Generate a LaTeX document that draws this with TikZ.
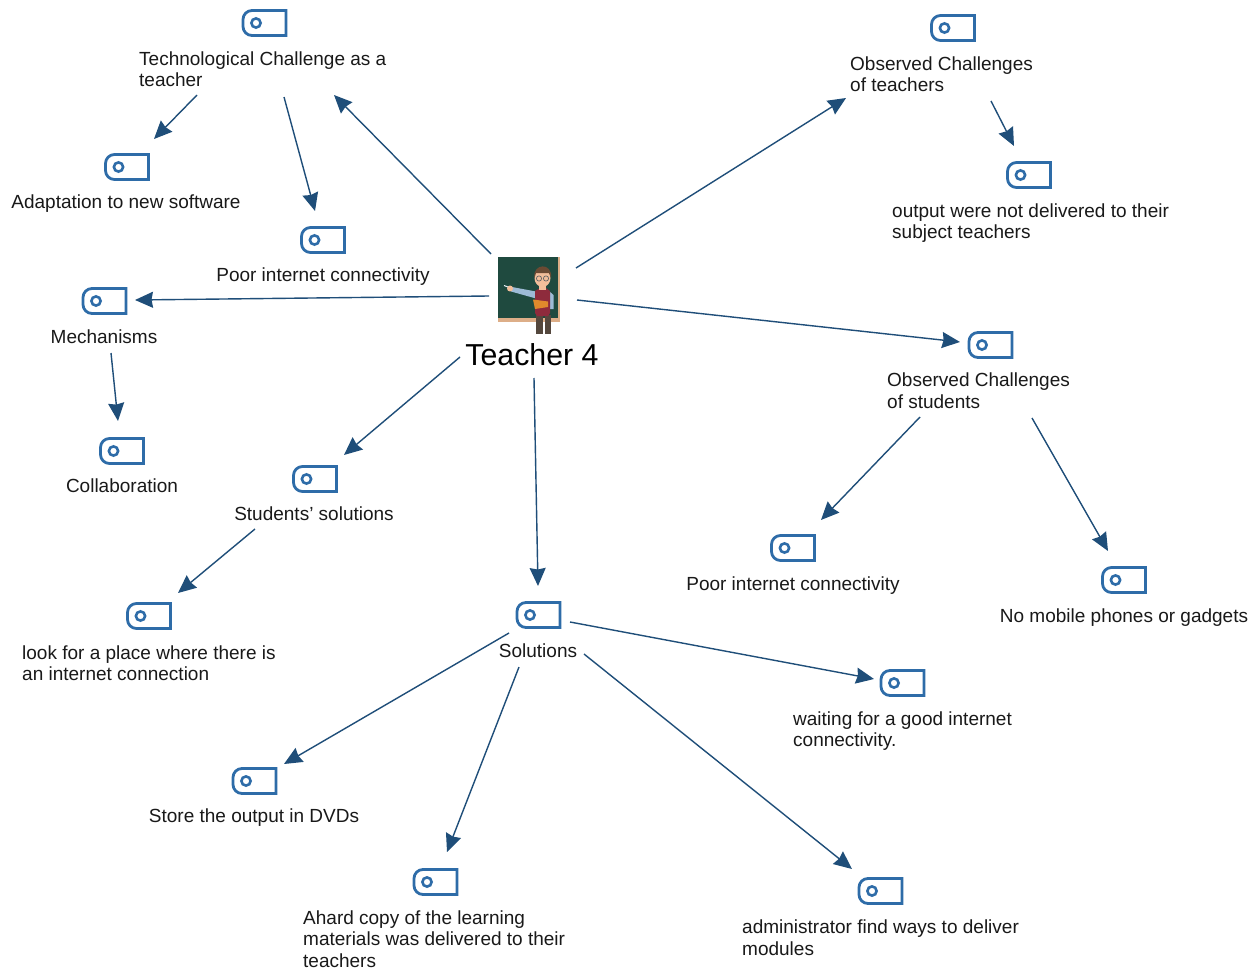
\documentclass[tikz,border=0pt]{standalone}
\usepackage{fontspec}
\setmainfont{Liberation Sans}
\usetikzlibrary{arrows.meta,calc}
\definecolor{arrowblue}{HTML}{1F4E79}
\definecolor{iconblue}{HTML}{2E6CA8}
\definecolor{boardgreen}{HTML}{1F4A3F}
\definecolor{frametan}{HTML}{DDAE88}
\definecolor{skin}{HTML}{F2BE9A}
\definecolor{hair}{HTML}{6B4A33}
\definecolor{vest}{HTML}{8E2B3C}
\definecolor{sleeve}{HTML}{9DBBD6}
\definecolor{bookor}{HTML}{E08A2C}
\definecolor{trouser}{HTML}{54473D}
\tikzset{
  x=1pt,y=-1pt,
  link/.style={draw=arrowblue,line width=1.4pt,-{Stealth[length=18pt,width=16pt,inset=1.5pt]}},
  tagbox/.style={minimum width=43pt,minimum height=25pt,inner sep=0pt,outer sep=0pt},
  tagline/.style={draw=iconblue,line width=2.8pt,line join=miter},
  tagdot/.style={draw=iconblue,line width=2.6pt},
  lab/.style={font=\fontsize{19}{21.5}\selectfont,text=black!90,inner sep=0pt},
  llab/.style={lab,align=left,anchor=west},
  title/.style={font=\fontsize{30.3}{34}\selectfont,text=black,inner sep=0pt},
}
\newcommand{\tagicon}[2]{%
  \node[tagbox] (#1) at (#2) {};
  \draw[tagline] (#1.north east) -- (#1.south east) -- ($(#1.south west)+(9,0)$)
    .. controls ($(#1.south west)+(4,0)$) and ($(#1.south west)+(0,-4)$) .. ($(#1.south west)+(0,-9)$)
    -- ($(#1.north west)+(0,9)$)
    .. controls ($(#1.north west)+(0,4)$) and ($(#1.north west)+(4,0)$) .. ($(#1.north west)+(9,0)$)
    -- cycle;
  \draw[tagdot] ($(#1.west)+(13,0)$) circle[radius=4.6pt];
}
\begin{document}
\begin{tikzpicture}
\useasboundingbox (0,0) rectangle (1253,971);
\fill[white] (0,0) rectangle (1253,971);
% central picture
\node[minimum width=62pt,minimum height=78pt,inner sep=0pt] (T) at (529,289) {};
\fill[frametan] (498,257) rectangle (560,322);
\fill[boardgreen] (498,257) rectangle (557.5,317.5);
\fill[trouser] (536,315) rectangle (542.5,334);
\fill[trouser] (544.5,315) rectangle (550.5,334);
\fill[sleeve] (549,291) -- (553.5,295) -- (553.5,309) -- (549,309) -- cycle;
\fill[sleeve] (512,287) -- (536,291.5) -- (536,298.5) -- (511,291.5) -- cycle;
\fill[skin] (510,288.5) circle[radius=3pt];
\draw[white!80!sleeve,line width=1pt] (504,285.5) -- (508,287);
\fill[vest] (535,291) -- (540,288) -- (546,288) -- (550,291) -- (550,313) -- (548,316) -- (537,316) -- (535,313) -- cycle;
\fill[bookor] (533,299.5) -- (548,301.5) -- (548,307) -- (535,309) -- cycle;
\fill[skin] (539,284) rectangle (546,290);
\fill[skin] (542.5,278) ellipse[x radius=8pt,y radius=9pt];
\fill[hair] (534.5,278) .. controls (532,263) and (553,262) .. (551,278) -- (549,273) -- (536,273) -- cycle;
\draw[black!60,line width=.7pt] (539,278.5) circle[radius=2.6pt] (546,278.5) circle[radius=2.6pt];
\node[title] (Tl) at (532,355) {Teacher 4};
% icons
\tagicon{tech}{264.5,23}
\tagicon{adapt}{127,167}
\tagicon{poorA}{323,240}
\tagicon{mech}{104.5,301}
\tagicon{collab}{122,451}
\tagicon{stud}{315,479}
\tagicon{look}{149,616}
\tagicon{sol}{538.5,615}
\tagicon{store}{254.5,781}
\tagicon{hard}{435.5,882}
\tagicon{admin}{880.5,891}
\tagicon{wait}{902.5,683}
\tagicon{poorB}{793,548}
\tagicon{nomob}{1124,580}
\tagicon{obsS}{990.5,345}
\tagicon{obsT}{953,28}
\tagicon{output}{1029,175}
% labels
\node[llab] (techL) at (139,69) {Technological Challenge as a\\teacher};
\node[lab] (adaptL) at (126,204) {Adaptation to new software};
\node[lab] (poorAL) at (323,277) {Poor internet connectivity};
\node[lab] (mechL) at (104,336.5) {Mechanisms};
\node[lab] (collabL) at (122,486) {Collaboration};
\node[lab] (studL) at (314,514) {Students' solutions};
\node[llab] (lookL) at (22,663) {look for a place where there is\\an internet connection};
\node[lab] (solL) at (538,651) {Solutions};
\node[lab] (storeL) at (254,817.5) {Store the output in DVDs};
\node[llab] (hardL) at (303,939) {Ahard copy of the learning\\materials was delivered to their\\teachers};
\node[llab] (adminL) at (742,937.5) {administrator find ways to deliver\\modules};
\node[llab] (waitL) at (793,731) {waiting for a good internet\\connectivity.};
\node[lab] (poorBL) at (793,585.5) {Poor internet connectivity};
\node[lab] (nomobL) at (1124,617.5) {No mobile phones or gadgets};
\node[llab] (obsSL) at (887,390.5) {Observed Challenges\\of students};
\node[llab] (obsTL) at (850,74) {Observed Challenges\\of teachers};
\node[llab] (outputL) at (892,223) {output were not delivered to their\\subject teachers};
% connectors
\draw[link] ($(T)+(-38,-35)$) -- ($(tech)+(69.5,72)$);
\draw[link] ($(T)+(47,-21)$) -- ($(obsT)+(-107,70)$);
\draw[link] ($(T)+(-40,7)$) -- ($(mech)+(30.5,-1)$);
\draw[link] ($(T)+(48,11)$) -- ($(obsS)+(-30.5,-3)$);
\draw[link] ($(T)+(-69,68)$) -- ($(stud)+(29,-24)$);
\draw[link] ($(T)+(5,89)$) -- ($(sol)+(-0.5,-29)$);
\draw[link] ($(tech)+(-67.5,72)$) -- ($(adapt)+(27,-28)$);
\draw[link] ($(tech)+(19.5,74)$) -- ($(poorA)+(-8,-29)$);
\draw[link] ($(obsT)+(38,73)$) -- ($(output)+(-15,-29)$);
\draw[link] ($(mech)+(6.5,52)$) -- ($(collab)+(-4,-30)$);
\draw[link] ($(stud)+(-60,50)$) -- ($(look)+(29,-23)$);
\draw[link] ($(sol)+(-29.5,18)$) -- ($(store)+(29.5,-17)$);
\draw[link] ($(sol)+(-19.5,52)$) -- ($(hard)+(11.5,-30)$);
\draw[link] ($(sol)+(45.5,39)$) -- ($(admin)+(-28.5,-22)$);
\draw[link] ($(sol)+(31.5,7)$) -- ($(wait)+(-28.5,-4)$);
\draw[link] ($(obsS)+(-70.5,72)$) -- ($(poorB)+(28,-28)$);
\draw[link] ($(obsS)+(41.5,73)$) -- ($(nomob)+(-16,-29)$);
\end{tikzpicture}
\end{document}
